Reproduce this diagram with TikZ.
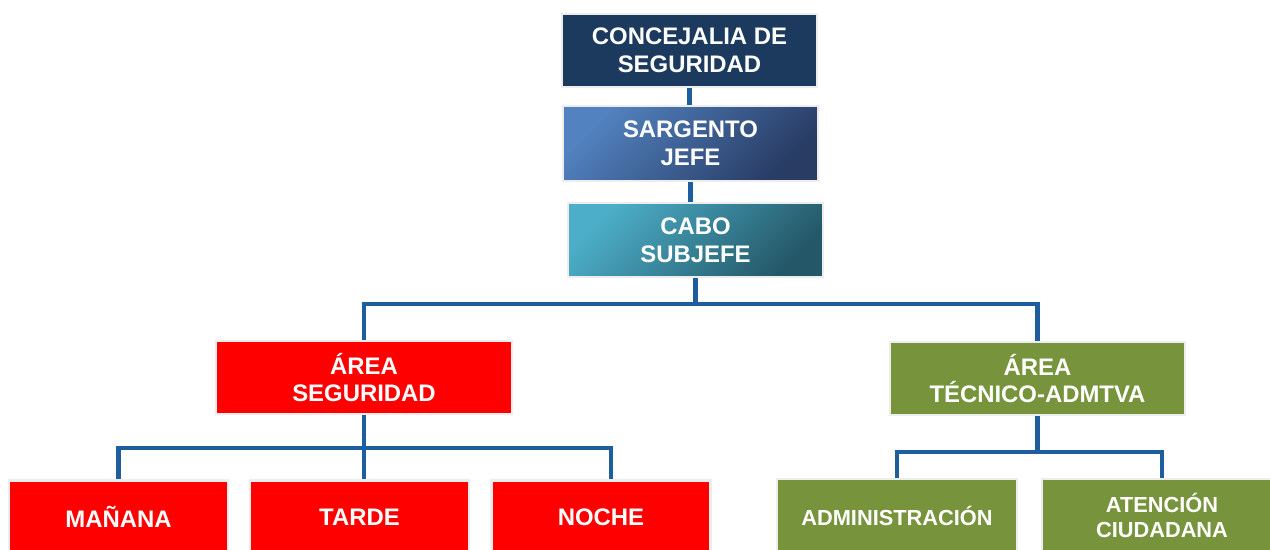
\documentclass[tikz,border=0pt]{standalone}
\usepackage{fontspec}
\setmainfont{Liberation Sans}
\usepackage{tikz}

\definecolor{navy}{RGB}{27,58,94}
\definecolor{sargtop}{RGB}{82,130,192}
\definecolor{sargbot}{RGB}{40,60,100}
\definecolor{cabotop}{RGB}{76,174,200}
\definecolor{cabobot}{RGB}{36,88,104}
\definecolor{olive}{RGB}{119,147,60}
\definecolor{linkblue}{RGB}{30,94,158}

\begin{document}
\begin{tikzpicture}[
    box/.style={draw=black!7, line width=1.2pt, text=white, align=center,
        inner sep=0pt, minimum height=1.46cm,
        font=\bfseries\fontsize{13.6}{15.8}\selectfont},
    link/.style={draw=linkblue, line width=2.3pt}
]
    \useasboundingbox (0,0) rectangle (25.4,11);

    % Top chain
    \node[box, fill=navy, minimum width=5.1cm] (conc) at (13.79,9.99) {CONCEJALIA DE\\SEGURIDAD};
    \node[box, left color=sargtop, right color=sargbot, shading angle=45,
        minimum width=5.1cm, minimum height=1.5cm] (sarg) at (13.81,8.13) {SARGENTO\\JEFE};
    \node[box, left color=cabotop, right color=cabobot, shading angle=45,
        minimum width=5.1cm, minimum height=1.48cm] (cabo) at (13.91,6.2) {CABO\\SUBJEFE};

    % Areas
    \node[box, fill=red, minimum width=5.92cm] (aseg) at (7.28,3.45) {ÁREA\\SEGURIDAD};
    \node[box, fill=olive, minimum width=5.9cm] (atec) at (20.75,3.43) {ÁREA\\TÉCNICO-ADMTVA};

    % Shifts
    \foreach \name/\x/\txt in {manana/2.37/MAÑANA, tarde/7.19/TARDE, noche/12.02/NOCHE} {
        \node[box, fill=red, minimum width=4.38cm] (\name) at (\x,0.66) {\txt};
    }

    % Technical area
    \node[box, fill=olive, minimum width=4.8cm, font=\bfseries\fontsize{12.4}{14.4}\selectfont]
        (admin) at (17.94,0.69) {ADMINISTRACIÓN};
    \node[box, fill=olive, minimum width=4.8cm, font=\bfseries\fontsize{12.4}{14.4}\selectfont]
        (aten) at (23.24,0.69) {ATENCIÓN\\CIUDADANA};

    % Connectors
    \draw[link] (conc.south) -- (conc.south |- sarg.north);
    \draw[link] (sarg.south) -- (sarg.south |- cabo.north);
    \draw[link] (cabo.south) -- ++(0,-0.52) coordinate (bus);
    \draw[link] (aseg.north) |- (bus) -| (atec.north);

    \draw[link] (aseg.south) -- ++(0,-0.66) coordinate (busl);
    \draw[link] (manana.north) |- (busl) -| ([xshift=0.2cm]noche.north);
    \draw[link] (busl) -- (busl |- tarde.north);

    \draw[link] (atec.south) -- ++(0,-0.72) coordinate (busr);
    \draw[link] (admin.north) |- (busr) -| (aten.north);
\end{tikzpicture}
\end{document}
